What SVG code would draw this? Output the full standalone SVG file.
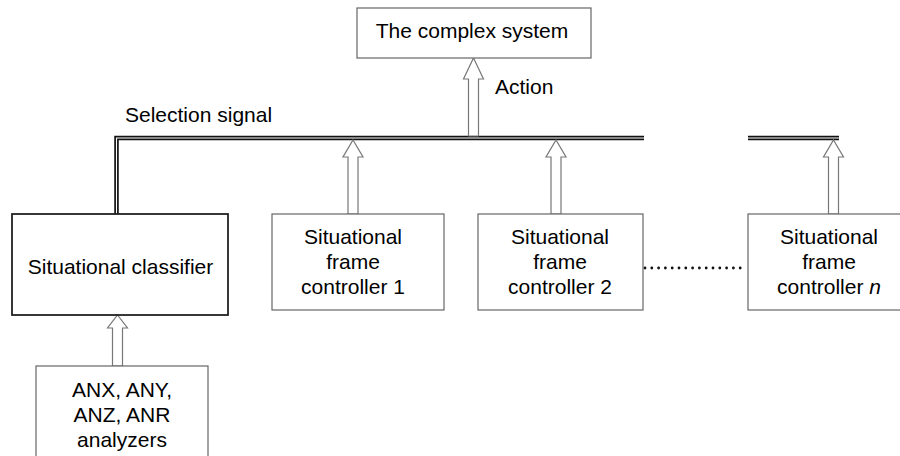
<svg xmlns="http://www.w3.org/2000/svg" width="900" height="456" viewBox="0 0 900 456">
  <style>
    .box { fill: #fff; stroke: #666; stroke-width: 1.2; }
    .box-strong { fill: #fff; stroke: #222; stroke-width: 1.8; }
    .lbl { font-family: "Liberation Sans", Arial, sans-serif; font-size: 21px; fill: #000; }
    .mid { text-anchor: middle; }
    .arrow { fill: #fff; stroke: #777; stroke-width: 1.2; stroke-linejoin: miter; }
    .bus-outer { fill: none; stroke: #111; stroke-width: 4.5; }
    .bus-inner { fill: none; stroke: #fff; stroke-width: 1.1; }
    .dots { fill: none; stroke: #111; stroke-width: 2.8; stroke-linecap: round; stroke-dasharray: 0 6.8; }
  </style>
  <rect width="900" height="456" fill="#fff"/>

  <!-- connectors -->
  <g id="connectors">
    <!-- selection signal bus (double line) -->
    <path class="bus-outer" d="M116.5,214 V138 H644"/>
    <path class="bus-inner" d="M116.5,214 V138 H644"/>
    <path class="bus-outer" d="M748,138 H839"/>
    <path class="bus-inner" d="M748,138 H839"/>
    <!-- action arrow: bus to system -->
    <path class="arrow" d="M473.5,58 L483.5,79 L478.5,79 L478.5,136 L468.5,136 L468.5,79 L463.5,79 Z"/>
    <!-- controllers to bus -->
    <path class="arrow" d="M353,140 L363,157 L358,157 L358,214 L348,214 L348,157 L343,157 Z"/>
    <path class="arrow" d="M556,140 L566,157 L561,157 L561,214 L551,214 L551,157 L546,157 Z"/>
    <path class="arrow" d="M833.5,140 L843.5,157 L838.5,157 L838.5,214 L828.5,214 L828.5,157 L823.5,157 Z"/>
    <!-- analyzers to classifier -->
    <path class="arrow" d="M117.5,315 L127.5,328 L122.5,328 L122.5,366 L112.5,366 L112.5,328 L107.5,328 Z"/>
    <!-- ellipsis between controllers -->
    <path class="dots" d="M645,268 H742"/>
  </g>

  <text class="lbl" x="125" y="122">Selection signal</text>
  <text class="lbl" x="495" y="94">Action</text>

  <g id="complex-system">
    <rect class="box" x="357" y="8" width="234" height="50"/>
    <text class="lbl mid" x="472" y="38">The complex system</text>
  </g>

  <g id="situational-classifier">
    <rect class="box-strong" x="12" y="214" width="216" height="101"/>
    <text class="lbl mid" x="120.5" y="274">Situational classifier</text>
  </g>

  <g id="analyzers">
    <rect class="box" x="36" y="366" width="172" height="100"/>
    <text class="lbl mid" x="122" y="397">ANX, ANY,</text>
    <text class="lbl mid" x="122" y="422">ANZ, ANR</text>
    <text class="lbl mid" x="122" y="447">analyzers</text>
  </g>

  <g id="controller-1">
    <rect class="box" x="272" y="214" width="172" height="96"/>
    <text class="lbl mid" x="353" y="244">Situational</text>
    <text class="lbl mid" x="353" y="269">frame</text>
    <text class="lbl mid" x="353" y="294">controller 1</text>
  </g>

  <g id="controller-2">
    <rect class="box" x="478" y="214" width="165" height="96"/>
    <text class="lbl mid" x="560" y="244">Situational</text>
    <text class="lbl mid" x="560" y="269">frame</text>
    <text class="lbl mid" x="560" y="294">controller 2</text>
  </g>

  <g id="controller-n">
    <rect class="box" x="748" y="214" width="170" height="96"/>
    <text class="lbl mid" x="829" y="244">Situational</text>
    <text class="lbl mid" x="829" y="269">frame</text>
    <text class="lbl mid" x="829" y="294">controller <tspan font-style="italic">n</tspan></text>
  </g>
</svg>
